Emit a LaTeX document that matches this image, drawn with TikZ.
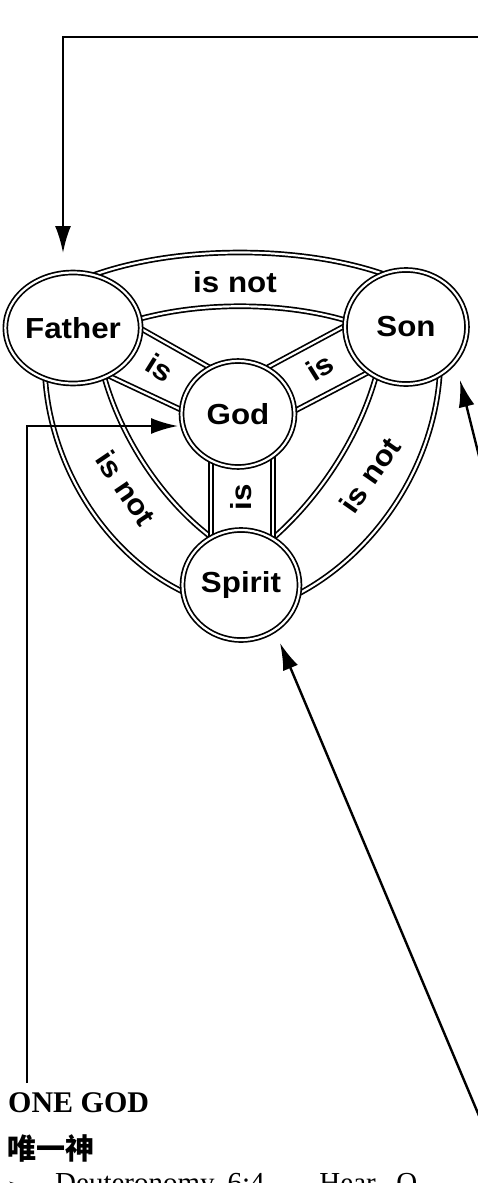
\documentclass[tikz,border=0pt]{standalone}
\usepackage{fontspec}
\setmainfont{Liberation Serif}
\newfontfamily\ringfont[FakeStretch=1.08]{Liberation Sans}
\newfontfamily\cjkfont{Noto Sans CJK SC}
\newfontfamily\symfont{DejaVu Sans}
\usetikzlibrary{arrows.meta,calc,shapes.geometric}

\tikzset{
  ring/.style={draw, double, line width=1.7pt, double distance=2.2pt},
  person/.style={ring, ellipse, fill=white, inner sep=0pt,
    font=\ringfont\bfseries\fontsize{29}{32}\selectfont},
  rel/.style={inner sep=0pt, font=\ringfont\bfseries\fontsize{29}{32}\selectfont},
  conn/.style={line width=2.4pt, -{Latex[length=27pt,width=16pt]}},
}

\begin{document}
\begin{tikzpicture}[x=1pt,y=-1pt]
\useasboundingbox (0,0) rectangle (478,1183);

% faixa de cima (Father - Son)
\draw[ring] (60,290) .. controls (150,240) and (330,240) .. (420,290);
\draw[ring] (120,325) .. controls (190,300) and (290,300) .. (360,325);

% faixa da esquerda (Father - Spirit)
\draw[ring] (45,375) .. controls (50,470) and (110,560) .. (190,595);
\draw[ring] (100,360) .. controls (115,430) and (160,500) .. (215,540);

% faixa da direita (Son - Spirit)
\draw[ring] (440,370) .. controls (435,470) and (370,560) .. (290,598);
\draw[ring] (380,360) .. controls (365,430) and (320,500) .. (265,545);

% raios ate God
\draw[ring] (100,305.5) -- (230,379);
\draw[ring] (90,367) -- (220,428);
\draw[ring] (380,307) -- (245,379.5);
\draw[ring] (395,358.4) -- (255,431.6);
\draw[ring] (211,440) -- (211,560);
\draw[ring] (273,440) -- (273,560);

% os quatro circulos
\node[person, minimum width=117pt, minimum height=111pt] (father) at (73,328) {Father};
\node[person, minimum width=122pt, minimum height=114pt] (son) at (406,327) {Son};
\node[person, minimum width=113pt, minimum height=106pt] (god) at (238,414) {God};
\node[person, minimum width=117pt, minimum height=110pt] (spirit) at (241,585) {Spirit};

% rotulos das faixas
\node[rel] (fs) at (235,282) {is not};
\node[rel, rotate=-32] (fg) at (160,368) {is};
\node[rel, rotate=32] (sg) at (320,367) {is};
\node[rel, rotate=90] (gp) at (241,497) {is};
\node[rel, rotate=-56] (fp) at (126,488) {is not};
\node[rel, rotate=55] (sp) at (370,475) {is not};

% setas
\coordinate (topsrc) at (490,37);
\coordinate (godsrc) at (27,1083);
\coordinate (sonsrc) at (482,468);
\coordinate (spiritsrc) at (485,1130);
\draw[conn] (topsrc) -| ($(father.center)+(-10,-75)$);
\draw[conn] (godsrc) |- ($(god.center)+(-60,12)$);
\draw[conn] (sonsrc) -- ($(son.center)+(54,53)$);
\draw[conn] (spiritsrc) -- ($(spirit.center)+(39,58)$);

% texto de baixo
\node[anchor=base west, inner sep=0pt, font=\bfseries\fontsize{30}{32}\selectfont] (onegod) at (8,1112) {ONE GOD};
\node[anchor=base west, inner sep=0pt, font=\cjkfont\bfseries\fontsize{29}{30}\selectfont] (weiyi) at (7,1159) {唯一神};
\node[anchor=base west, inner sep=0pt, font=\symfont\fontsize{18}{20}\selectfont] (bullet) at (7,1191) {➢};
\node[anchor=base west, inner sep=0pt, font=\fontsize{29}{32}\selectfont] (verse) at (55,1192) {\makebox[362pt][s]{Deuteronomy 6:4 — Hear, O}};

\end{tikzpicture}
\end{document}
